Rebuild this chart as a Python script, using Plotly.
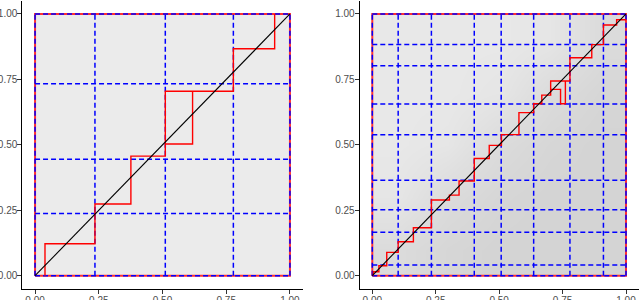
import plotly.graph_objects as go

# ---------------- data ----------------
# Left panel: cut positions of the dashed blue grid
left_vcuts = [0.0, 0.235, 0.511, 0.778, 1.0]
left_hcuts = [0.0, 0.238, 0.445, 0.733, 1.0]
# Left panel red step path (None separates pieces)
left_step_x = [0.039, 0.039, 0.235, 0.235, 0.376, 0.376, 0.511, 0.511, 0.778, 0.778, 0.940, 0.940,
               None, 0.511, 0.618, 0.618]
left_step_y = [0.0, 0.122, 0.122, 0.274, 0.274, 0.457, 0.457, 0.705, 0.705, 0.867, 0.867, 1.0,
               None, 0.503, 0.503, 0.705]

# Right panel
right_vcuts = [0.0, 0.102, 0.233, 0.402, 0.508, 0.636, 0.779, 0.911, 1.0]
right_hcuts = [0.0, 0.041, 0.166, 0.252, 0.365, 0.539, 0.656, 0.802, 0.883, 1.0]
right_step_x = [0.004, 0.004, 0.026, 0.026, 0.057, 0.057, 0.102, 0.102, 0.162, 0.162, 0.233, 0.233,
                0.304, 0.304, 0.342, 0.342, 0.402, 0.402, 0.461, 0.461, 0.509, 0.509, 0.578, 0.578,
                0.636, 0.636, 0.668, 0.668, 0.703, 0.703, 0.779, 0.779, 0.865, 0.865, 0.911, 0.911,
                0.963, 0.963, 1.0,
                None, 0.703, 0.742, 0.742, 0.761, 0.761]
right_step_y = [0.0, 0.015, 0.015, 0.038, 0.038, 0.089, 0.089, 0.130, 0.130, 0.183, 0.183, 0.289,
                0.289, 0.308, 0.308, 0.362, 0.362, 0.448, 0.448, 0.498, 0.498, 0.539, 0.539, 0.623,
                0.623, 0.657, 0.657, 0.690, 0.690, 0.744, 0.744, 0.833, 0.833, 0.883, 0.883, 0.958,
                0.958, 0.978, 0.978,
                None, 0.712, 0.712, 0.657, 0.657, 0.744]

# Point-cloud density (shade of the scatter cloud), rows bottom->top
cell_centers = [0.1, 0.3, 0.5, 0.7, 0.9]
left_density = [[0.08, 0.08, 0.08, 0.08, 0.08],
                [0.08, 0.08, 0.08, 0.08, 0.08],
                [0.08, 0.08, 0.08, 0.08, 0.08],
                [0.08, 0.08, 0.08, 0.08, 0.08],
                [0.08, 0.08, 0.08, 0.08, 0.08]]
right_density = [[0.14, 0.16, 0.17, 0.17, 0.17],
                 [0.10, 0.14, 0.16, 0.17, 0.17],
                 [0.09, 0.10, 0.14, 0.16, 0.17],
                 [0.09, 0.09, 0.10, 0.14, 0.16],
                 [0.09, 0.09, 0.09, 0.10, 0.14]]

tick_vals = [0.0, 0.25, 0.5, 0.75, 1.0]
tick_text = ["0.00", "0.25", "0.50", "0.75", "1.00"]
diag = [0.0, 1.0]
border_x = [0.0, 1.0, 1.0, 0.0, 0.0]
border_y = [0.0, 0.0, 1.0, 1.0, 0.0]


def grid_lines(vcuts, hcuts):
    xs, ys = [], []
    for v in vcuts:
        xs += [v, v, None]
        ys += [0.0, 1.0, None]
    for h in hcuts:
        xs += [0.0, 1.0, None]
        ys += [h, h, None]
    return xs, ys


fig = go.Figure()
panels = [
    ("x", "y", left_density, left_vcuts, left_hcuts, left_step_x, left_step_y),
    ("x2", "y2", right_density, right_vcuts, right_hcuts, right_step_x, right_step_y),
]
for xa, ya, dens, vc, hc, sx, sy in panels:
    fig.add_trace(go.Heatmap(x=cell_centers, y=cell_centers, z=dens, zmin=0, zmax=1,
                             colorscale=[[0, "rgb(255,255,255)"], [1, "rgb(0,0,0)"]],
                             zsmooth="best", showscale=False, hoverinfo="skip",
                             xaxis=xa, yaxis=ya))
    fig.add_trace(go.Scatter(x=border_x, y=border_y, mode="lines",
                             line=dict(color="#FF3030", width=2), xaxis=xa, yaxis=ya))
    gx, gy = grid_lines(vc, hc)
    fig.add_trace(go.Scatter(x=gx, y=gy, mode="lines",
                             line=dict(color="#0000FF", width=1.5, dash="5px,3px"),
                             xaxis=xa, yaxis=ya))
    fig.add_trace(go.Scatter(x=sx, y=sy, mode="lines",
                             line=dict(color="#FF0000", width=1.4), xaxis=xa, yaxis=ya))
    fig.add_trace(go.Scatter(x=diag, y=diag, mode="lines",
                             line=dict(color="#000000", width=1.1), xaxis=xa, yaxis=ya))

axis_common = dict(range=[-0.05, 1.05], showgrid=False, zeroline=False, showline=True,
                   linecolor="black", linewidth=1, ticks="outside", ticklen=4,
                   tickcolor="#333333", tickwidth=1, tickvals=tick_vals, ticktext=tick_text,
                   tickfont=dict(family="Liberation Sans", size=10, color="#4D4D4D"),
                   ticklabelstandoff=-2, automargin=False, fixedrange=True)

fig.update_layout(
    width=640, height=300,
    margin=dict(l=0, r=0, t=0, b=0),
    paper_bgcolor="white", plot_bgcolor="white",
    showlegend=False,
    xaxis=dict(domain=[22.3 / 640, 302.7 / 640], anchor="y", **axis_common),
    yaxis=dict(domain=[11.2 / 300, 299.1 / 300], anchor="x", **axis_common),
    xaxis2=dict(domain=[359.6 / 640, 638.7 / 640], anchor="y2", **axis_common),
    yaxis2=dict(domain=[11.2 / 300, 299.1 / 300], anchor="x2", **axis_common),
)

fig.write_html("out.html", config={"displayModeBar": False},
               post_script="document.body.style.margin='0px';")
